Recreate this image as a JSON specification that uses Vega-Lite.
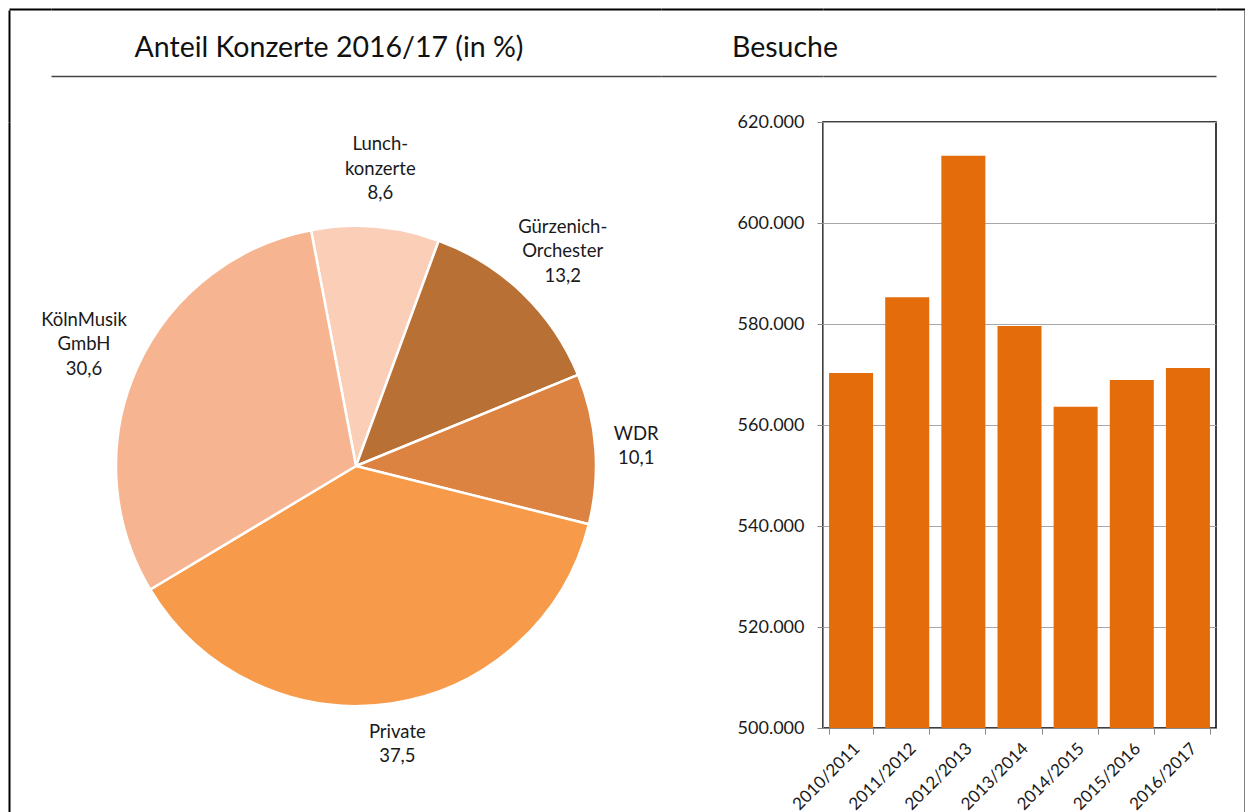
{
  "$schema": "https://vega.github.io/schema/vega-lite/v6.json",
  "background": "white",
  "padding": {"left": 9, "top": 9, "right": 0, "bottom": 0},
  "autosize": {"type": "pad"},
  "bounds": "flush",
  "spacing": 0,
  "columns": 5,
  "config": {
    "font": "Lato",
    "view": {"stroke": null},
    "axis": {"labelFont": "Lato", "labelColor": "#1a1a1a", "titleFont": "Lato"},
    "title": {"font": "Lato", "fontWeight": "normal", "fontSize": 28.5, "color": "#111111"}
  },
  "concat": [
    {"width": 42, "height": 1, "data": {"values": []}, "mark": "point",
      "encoding": {"x": {"field": "v", "type": "quantitative", "scale": {"domain": [0, 1]},
        "axis": {"orient": "top", "domainColor": "#000000", "domainWidth": 2, "ticks": false, "labels": false, "grid": false, "title": null}}}},
    {"width": 610, "height": 1, "data": {"values": []}, "mark": "point",
      "encoding": {"x": {"field": "v", "type": "quantitative", "scale": {"domain": [0, 1]},
        "axis": {"orient": "top", "domainColor": "#000000", "domainWidth": 2, "ticks": false, "labels": false, "grid": false, "title": null}}}},
    {"width": 162, "height": 1, "data": {"values": []}, "mark": "point",
      "encoding": {"x": {"field": "v", "type": "quantitative", "scale": {"domain": [0, 1]},
        "axis": {"orient": "top", "domainColor": "#000000", "domainWidth": 2, "ticks": false, "labels": false, "grid": false, "title": null}}}},
    {"width": 393, "height": 1, "data": {"values": []}, "mark": "point",
      "encoding": {"x": {"field": "v", "type": "quantitative", "scale": {"domain": [0, 1]},
        "axis": {"orient": "top", "domainColor": "#000000", "domainWidth": 2, "ticks": false, "labels": false, "grid": false, "title": null}}}},
    {"width": 29, "height": 1, "data": {"values": []}, "mark": "point",
      "encoding": {"x": {"field": "v", "type": "quantitative", "scale": {"domain": [0, 1]},
        "axis": {"orient": "top", "domainColor": "#000000", "domainWidth": 2, "ticks": false, "labels": false, "grid": false, "title": null}}}},

    {"width": 42, "height": 112, "data": {"values": []}, "mark": "point",
      "encoding": {"y": {"field": "v", "type": "quantitative", "scale": {"domain": [0, 1]},
        "axis": {"orient": "left", "domainColor": "#000000", "domainWidth": 2, "ticks": false, "labels": false, "grid": false, "title": null}}}},
    {"width": 610, "height": 112,
      "title": {"text": "Anteil Konzerte 2016/17 (in %)", "anchor": "middle", "dx": -27, "offset": -52},
      "data": {"values": []}, "mark": "point",
      "encoding": {"x": {"field": "v", "type": "quantitative", "scale": {"domain": [0, 1]},
        "axis": {"orient": "bottom", "offset": -46, "domainColor": "#444444", "domainWidth": 1.5, "ticks": false, "labels": false, "grid": false, "title": null}}}},
    {"width": 162, "height": 112,
      "title": {"text": "Besuche", "anchor": "start", "dx": 71, "offset": -52},
      "data": {"values": []}, "mark": "point",
      "encoding": {"x": {"field": "v", "type": "quantitative", "scale": {"domain": [0, 1]},
        "axis": {"orient": "bottom", "offset": -46, "domainColor": "#444444", "domainWidth": 1.5, "ticks": false, "labels": false, "grid": false, "title": null}}}},
    {"width": 393, "height": 112, "data": {"values": []}, "mark": "point",
      "encoding": {"x": {"field": "v", "type": "quantitative", "scale": {"domain": [0, 1]},
        "axis": {"orient": "bottom", "offset": -46, "domainColor": "#444444", "domainWidth": 1.5, "ticks": false, "labels": false, "grid": false, "title": null}}}},
    {"width": 29, "height": 112, "data": {"values": []}, "mark": "point",
      "encoding": {"y": {"field": "v", "type": "quantitative", "scale": {"domain": [0, 1]},
        "axis": {"orient": "right", "domainColor": "#000000", "domainWidth": 2, "ticks": false, "labels": false, "grid": false, "title": null}}}},

    {"width": 42, "height": 690, "data": {"values": []}, "mark": "point",
      "encoding": {"y": {"field": "v", "type": "quantitative", "scale": {"domain": [0, 1]},
        "axis": {"orient": "left", "domainColor": "#000000", "domainWidth": 2, "ticks": false, "labels": false, "grid": false, "title": null}}}},
    {
      "width": 610,
      "height": 688,
      "data": {
        "values": [
          {"gruppe": "Lunchkonzerte", "nr": 1, "anteil": 8.6, "text": "Lunch-\nkonzerte\n8,6"},
          {"gruppe": "Gürzenich-Orchester", "nr": 2, "anteil": 13.2, "text": "Gürzenich-\nOrchester\n13,2"},
          {"gruppe": "WDR", "nr": 3, "anteil": 10.1, "text": "WDR\n10,1"},
          {"gruppe": "Private", "nr": 4, "anteil": 37.5, "text": "Private\n37,5"},
          {"gruppe": "KölnMusik GmbH", "nr": 5, "anteil": 30.6, "text": "KölnMusik\nGmbH\n30,6"}
        ]
      },
      "layer": [
        {
          "mark": {"type": "arc", "outerRadius": 240, "stroke": "white", "strokeWidth": 2.5},
          "encoding": {
            "theta": {"field": "anteil", "type": "quantitative", "stack": true, "scale": {"range": [-0.1885, 6.0947]}},
            "order": {"field": "nr", "type": "quantitative"},
            "color": {"field": "gruppe", "type": "nominal", "legend": null,
              "scale": {"domain": ["Lunchkonzerte", "Gürzenich-Orchester", "WDR", "Private", "KölnMusik GmbH"],
                "range": ["#FBCEB8", "#B87034", "#DC8342", "#F79A4A", "#F7B490"]}}
          }
        },
        {
          "mark": {"type": "text", "radius": 281, "dy": -12, "fontSize": 18.5, "lineHeight": 24.5, "lineBreak": "\n", "align": "center", "baseline": "middle", "font": "Lato", "color": "#1a1a1a"},
          "encoding": {
            "theta": {"field": "anteil", "type": "quantitative", "stack": true},
            "order": {"field": "nr", "type": "quantitative"},
            "text": {"condition": {"test": "indexof(datum.text, '\\n') === lastindexof(datum.text, '\\n')", "field": "text", "type": "nominal"}, "value": ""}
          }
        },
        {
          "mark": {"type": "text", "radius": 298, "dy": -24.5, "fontSize": 18.5, "lineHeight": 24.5, "lineBreak": "\n", "align": "center", "baseline": "middle", "font": "Lato", "color": "#1a1a1a"},
          "encoding": {
            "theta": {"field": "anteil", "type": "quantitative", "stack": true},
            "order": {"field": "nr", "type": "quantitative"},
            "text": {"condition": {"test": "indexof(datum.text, '\\n') !== lastindexof(datum.text, '\\n')", "field": "text", "type": "nominal"}, "value": ""}
          }
        }
      ]
    },
    {"width": 162, "height": 1, "data": {"values": []}, "mark": "point", "encoding": {}},
    {
      "width": 393,
      "height": 606,
      "view": {"stroke": "#000000", "strokeWidth": 1.5},
      "data": {
        "values": [
          {"saison": "2010/2011", "besuche": 570300},
          {"saison": "2011/2012", "besuche": 585300},
          {"saison": "2012/2013", "besuche": 613300},
          {"saison": "2013/2014", "besuche": 579600},
          {"saison": "2014/2015", "besuche": 563600},
          {"saison": "2015/2016", "besuche": 568900},
          {"saison": "2016/2017", "besuche": 571300}
        ]
      },
      "mark": {"type": "bar", "color": "#E46C0A", "clip": true},
      "encoding": {
        "x": {"field": "saison", "type": "ordinal",
          "scale": {"paddingInner": 0.216, "paddingOuter": 0.108},
          "axis": {"title": null, "labelAngle": -45, "tickBand": "extent", "domainColor": "#8a8a8a", "tickColor": "#8a8a8a", "tickSize": 6, "labelFontSize": 17, "labelPadding": 6, "grid": false}},
        "y": {"field": "besuche", "type": "quantitative",
          "scale": {"domain": [500000, 620000], "zero": false},
          "axis": {"title": null, "values": [500000, 520000, 540000, 560000, 580000, 600000, 620000],
            "labelExpr": "replace(format(datum.value, ','), ',', '.')",
            "grid": true, "gridColor": "#a8a8a8", "domainColor": "#8a8a8a", "tickColor": "#8a8a8a", "tickSize": 6, "labelPadding": 13, "labelFontSize": 18}}
      }
    },
    {"width": 29, "height": 690, "data": {"values": []}, "mark": "point",
      "encoding": {"y": {"field": "v", "type": "quantitative", "scale": {"domain": [0, 1]},
        "axis": {"orient": "right", "domainColor": "#000000", "domainWidth": 2, "ticks": false, "labels": false, "grid": false, "title": null}}}}
  ]
}
